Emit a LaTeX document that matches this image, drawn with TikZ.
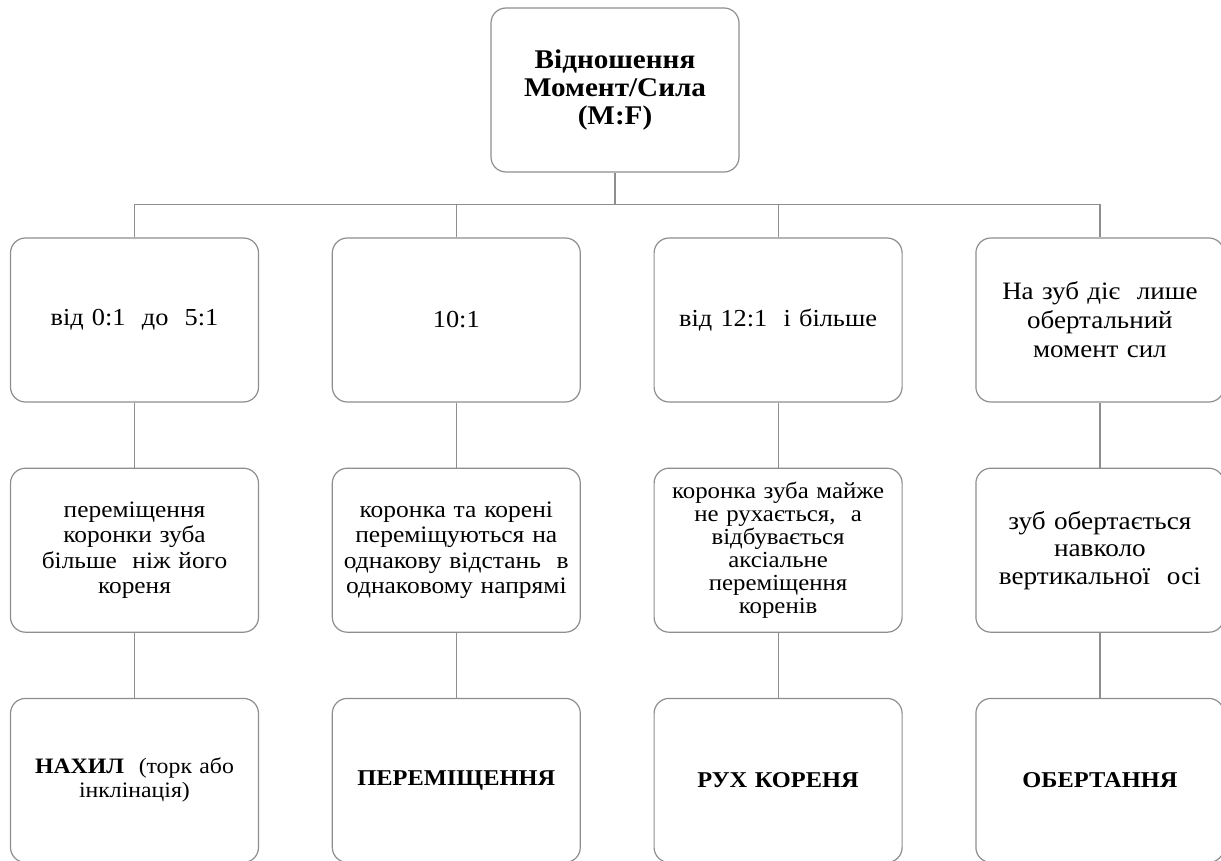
\documentclass[tikz,border=0pt]{standalone}
\usepackage{fontspec}
\setmainfont{Liberation Serif}[FakeStretch=1.08]
\usetikzlibrary{positioning,calc}
\definecolor{edge}{HTML}{8E8E8E}
\tikzset{box/.style={draw=edge,line width=0.6pt,rounded corners=7.5pt,fill=white,align=center,text width=122pt,minimum width=124pt,minimum height=82pt,inner sep=1pt,font=\fontsize{12.2}{14}\selectfont},link/.style={draw=edge,line width=0.6pt}}
\begin{document}
\begin{tikzpicture}[node distance=32.5pt and 36.3pt]
\useasboundingbox (0,0) rectangle (610.5pt,-430.5pt);
\node[box,font=\bfseries\fontsize{13.5}{14}\selectfont] (ratio) at (307.5pt,-45pt) {Відношення\\ Момент/Сила\\ (M:F)};
% moment ratios
\node[box] (r1) at (67.25pt,-160pt) {від 0:1 \ до \ 5:1};
\node[box,right=of r1] (r2) {10:1};
\node[box,right=of r2] (r3) {від 12:1 \ і більше};
\node[box,right=of r3,font=\fontsize{12.5}{14.5}\selectfont] (r4) {На зуб діє \ лише\\ обертальний\\ момент сил};
% what happens to the tooth
\node[box,below=of r1,font=\fontsize{11.75}{12.75}\selectfont] (m1) {переміщення\\ коронки зуба\\ більше \ ніж його\\ кореня};
\node[box,below=of r2,font=\fontsize{11.8}{12.7}\selectfont] (m2) {коронка та корені\\ переміщуються на\\ однакову відстань \ в\\ однаковому напрямі};
\node[box,below=of r3,font=\fontsize{11.5}{11.5}\selectfont] (m3) {коронка зуба майже\\ не рухається, \ а\\ відбувається\\ аксіальне\\ переміщення\\ коренів};
\node[box,below=of r4,font=\fontsize{12.6}{13.75}\selectfont] (m4) {зуб обертається\\ навколо\\ вертикальної \ осі};
% type of movement
\node[box,below=of m1,font=\fontsize{11}{12}\selectfont] (t1) {\textbf{НАХИЛ} \ (торк або\\ інклінація)};
\node[box,below=of m2,font=\bfseries\fontsize{11.3}{12}\selectfont] (t2) {ПЕРЕМІЩЕННЯ};
\node[box,below=of m3,font=\bfseries\fontsize{11.3}{12}\selectfont] (t3) {РУХ КОРЕНЯ};
\node[box,below=of m4,font=\bfseries\fontsize{11.3}{12}\selectfont] (t4) {ОБЕРТАННЯ};
\coordinate (bus) at ($(ratio.south)+(0,-16pt)$);
\draw[link] (ratio.south)--(bus);
\draw[link] (bus)-|(r1.north);\draw[link] (bus)-|(r2.north);\draw[link] (bus)-|(r3.north);\draw[link] (bus)-|(r4.north);
\draw[link] (r1)--(m1);\draw[link] (r2)--(m2);\draw[link] (r3)--(m3);\draw[link] (r4)--(m4);
\draw[link] (m1)--(t1);\draw[link] (m2)--(t2);\draw[link] (m3)--(t3);\draw[link] (m4)--(t4);
\end{tikzpicture}
\end{document}
